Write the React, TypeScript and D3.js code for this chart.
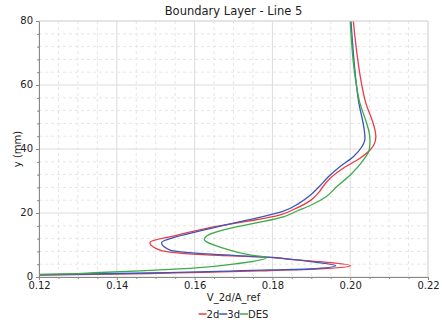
import React, { useEffect, useRef } from "react";
import * as d3 from "d3";

// y positions (mm) and velocity values
const Y_2D = [0.3, 0.6, 1.1, 2.0, 2.4, 3.5, 4.8, 5.5, 6.1, 6.9, 8.4, 10.8, 12.8, 15.2, 19.4, 21.5, 24.1, 26.7, 28.6, 30.8, 34, 37.1, 39.7, 41.3, 43.8, 55.3, 80];
const V_2D = [0.1, 0.12, 0.1485, 0.1794, 0.1897, 0.2001, 0.1922, 0.1845, 0.1802, 0.1631, 0.1511, 0.1485, 0.1545, 0.1631, 0.182, 0.1862, 0.19, 0.1921, 0.1932, 0.1948, 0.1982, 0.2025, 0.2051, 0.2061, 0.2066, 0.2038, 0.2008];

const Y_3D = [0.4, 0.7, 1.25, 2.2, 2.5, 3.5, 4.7, 5.6, 6.2, 7.2, 8.4, 10.7, 12.6, 14.9, 17.3, 20.4, 23, 25.6, 28.2, 31.3, 34.5, 37.6, 40.7, 43.3, 55.3, 80];
const V_3D = [0.1, 0.12, 0.1485, 0.1794, 0.1897, 0.1963, 0.1905, 0.1845, 0.1785, 0.1631, 0.1537, 0.1515, 0.1554, 0.1631, 0.1717, 0.1825, 0.1868, 0.1898, 0.192, 0.1944, 0.1974, 0.2008, 0.203, 0.2038, 0.2021, 0.2002];

const Y_DES = [0.5, 0.8, 1.4, 1.9, 2.7, 4.3, 6.1, 6.9, 9.0, 11.8, 12.8, 14.7, 16.8, 18.8, 20.7, 22.5, 25.1, 28.2, 31.9, 36.6, 39.7, 42.8, 55.3, 80];
const V_DES = [0.1, 0.12, 0.1357, 0.146, 0.1588, 0.1717, 0.1785, 0.1742, 0.1674, 0.1625, 0.1631, 0.1674, 0.1755, 0.1828, 0.1865, 0.19, 0.1938, 0.1965, 0.2, 0.2034, 0.2049, 0.2051, 0.2023, 0.2];

const SERIES = [
  { name: "2d", color: "#ee3a45", ys: Y_2D, vs: V_2D },
  { name: "3d", color: "#3a58b8", ys: Y_3D, vs: V_3D },
  { name: "DES", color: "#3aab48", ys: Y_DES, vs: V_DES },
];

const X_TICKS = [0.12, 0.14, 0.16, 0.18, 0.2, 0.22];
const Y_TICKS = [0, 20, 40, 60, 80];

const W = 442;
const H = 322;
const FONT = "DejaVu Sans, sans-serif";

export default function App() {
  const svgRef = useRef<SVGSVGElement>(null);

  useEffect(() => {
    const svg = d3.select(svgRef.current);
    svg.selectAll("*").remove();

    const m = { top: 21, right: 14, bottom: 45, left: 39 };
    const iw = W - m.left - m.right;
    const ih = H - m.top - m.bottom;

    const x = d3.scaleLinear().domain([0.12, 0.22]).range([0, iw]);
    const y = d3.scaleLinear().domain([0, 80]).range([ih, 0]);

    svg
      .append("defs")
      .append("clipPath")
      .attr("id", "plot-clip")
      .append("rect")
      .attr("width", iw)
      .attr("height", ih);

    const g = svg.append("g").attr("transform", `translate(${m.left},${m.top})`);

    // minor grid (dashed)
    const xMinor = d3.range(0.12, 0.2201, 0.005).filter((_, i) => i % 4 !== 0);
    const yMinor = d3.range(0, 80.01, 4).filter((_, i) => i % 5 !== 0);
    g.append("g")
      .selectAll("line")
      .data(xMinor)
      .join("line")
      .attr("x1", (d) => x(d))
      .attr("x2", (d) => x(d))
      .attr("y1", 0)
      .attr("y2", ih)
      .attr("stroke", "#e6e6e6")
      .attr("stroke-dasharray", "3,3");
    g.append("g")
      .selectAll("line")
      .data(yMinor)
      .join("line")
      .attr("x1", 0)
      .attr("x2", iw)
      .attr("y1", (d) => y(d))
      .attr("y2", (d) => y(d))
      .attr("stroke", "#e6e6e6")
      .attr("stroke-dasharray", "3,3");

    // major grid
    g.append("g")
      .selectAll("line")
      .data(X_TICKS)
      .join("line")
      .attr("x1", (d) => x(d))
      .attr("x2", (d) => x(d))
      .attr("y1", 0)
      .attr("y2", ih)
      .attr("stroke", "#dcdcdc");
    g.append("g")
      .selectAll("line")
      .data(Y_TICKS)
      .join("line")
      .attr("x1", 0)
      .attr("x2", iw)
      .attr("y1", (d) => y(d))
      .attr("y2", (d) => y(d))
      .attr("stroke", "#dcdcdc");

    // curves: each profile is a function of y, so monotone in y
    const line = d3
      .line<[number, number]>()
      .x((d) => x(d[0]))
      .y((d) => y(d[1]))
      .curve(d3.curveMonotoneY);

    const plot = g.append("g").attr("clip-path", "url(#plot-clip)");
    SERIES.forEach((s) => {
      const pts: [number, number][] = s.vs.map((v, i) => [v, s.ys[i]]);
      plot
        .append("path")
        .attr("d", line(pts))
        .attr("fill", "none")
        .attr("stroke", s.color)
        .attr("stroke-width", 1.3);
    });

    // axes
    const xAxis = g
      .append("g")
      .attr("transform", `translate(0,${ih})`)
      .call(
        d3
          .axisBottom(x)
          .tickValues(X_TICKS)
          .tickFormat(d3.format(".2f"))
          .tickSize(3)
      );
    xAxis.selectAll(".tick text").attr("dy", "0.55em");
    const xAxisMinor = g
      .append("g")
      .attr("transform", `translate(0,${ih})`)
      .call(d3.axisBottom(x).tickValues(xMinor).tickFormat(() => "").tickSize(2));
    xAxisMinor.select(".domain").remove();

    const yAxis = g.append("g").call(d3.axisLeft(y).tickValues(Y_TICKS).tickSize(3));
    yAxis.selectAll(".tick text").attr("dy", "0.28em");
    const yAxisMinor = g
      .append("g")
      .call(d3.axisLeft(y).tickValues(yMinor).tickFormat(() => "").tickSize(2));
    yAxisMinor.select(".domain").remove();

    [xAxis, yAxis, xAxisMinor, yAxisMinor].forEach((a) => {
      a.selectAll("line").attr("stroke", "#888");
      a.select(".domain").attr("stroke", "#888");
      a.selectAll("text")
        .attr("font-family", FONT)
        .attr("font-size", 10)
        .attr("fill", "#222");
    });

    // frame top/right
    g.append("line").attr("x1", 0).attr("x2", iw).attr("y1", 0).attr("y2", 0).attr("stroke", "#dcdcdc");
    g.append("line").attr("x1", iw).attr("x2", iw).attr("y1", 0).attr("y2", ih).attr("stroke", "#dcdcdc");

    // title and axis labels
    svg
      .append("text")
      .attr("x", m.left + iw / 2)
      .attr("y", 15)
      .attr("text-anchor", "middle")
      .attr("font-family", FONT)
      .attr("font-size", 11.5)
      .attr("fill", "#222")
      .text("Boundary Layer - Line 5");

    svg
      .append("text")
      .attr("x", m.left + iw / 2)
      .attr("y", 301)
      .attr("text-anchor", "middle")
      .attr("font-family", FONT)
      .attr("font-size", 10)
      .attr("fill", "#222")
      .text("V_2d/A_ref");

    svg
      .append("text")
      .attr("transform", `translate(21,${m.top + ih / 2}) rotate(-90)`)
      .attr("text-anchor", "middle")
      .attr("font-family", FONT)
      .attr("font-size", 10)
      .attr("fill", "#222")
      .text("y (mm)");

    // legend, centred under the plot
    const legend = svg.append("g");
    let lx = 0;
    SERIES.forEach((s) => {
      legend
        .append("line")
        .attr("x1", lx)
        .attr("x2", lx + 8)
        .attr("y1", 0)
        .attr("y2", 0)
        .attr("stroke", s.color)
        .attr("stroke-width", 1.5);
      const t = legend
        .append("text")
        .attr("x", lx + 8)
        .attr("y", 3.5)
        .attr("font-family", FONT)
        .attr("font-size", 10)
        .attr("fill", "#222")
        .text(s.name);
      const tw = (t.node() as SVGTextElement).getComputedTextLength();
      lx += 8 + tw;
    });
    legend.attr("transform", `translate(${m.left + iw / 2 - lx / 2},314)`);
  }, []);

  return (
    <svg
      ref={svgRef}
      width={W}
      height={H}
      style={{ position: "absolute", left: 0, top: 0, background: "#fff" }}
    />
  );
}
